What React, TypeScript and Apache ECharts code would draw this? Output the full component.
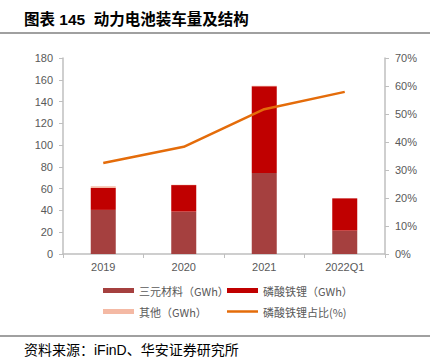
import React, { useEffect, useRef } from "react";
import * as echarts from "echarts";

const categories = ["2019", "2020", "2021", "2022Q1"];
const ternary = [40.5, 38.9, 74.3, 21.5];
const lfp = [20.2, 24.4, 79.8, 29.6];
const other = [1.5, 0.3, 0.4, 0];
const lfpShare = [32.5, 38.3, 51.7, 57.9];

const leftTicks = { min: 0, max: 180, interval: 20 };
const rightTicks = { min: 0, max: 70, interval: 10 };

const FONT = "'Liberation Sans', 'Noto Sans CJK SC', sans-serif";
const AXIS_COLOR = "#BFBFBF";
const LABEL_COLOR = "#595959";

export default function App() {
  const ref = useRef<HTMLDivElement>(null);
  useEffect(() => {
    if (!ref.current) return;
    const chart = echarts.init(ref.current, null, { renderer: "svg" });
    const legendText = { color: LABEL_COLOR, fontSize: 11, fontFamily: "'Noto Sans CJK SC', sans-serif" };
    const legendBase = {
      orient: "horizontal",
      itemWidth: 31,
      itemHeight: 5,
      itemGap: 0,
      padding: 0,
      textStyle: legendText,
      icon: "rect",
    };
    chart.setOption({
      animation: false,
      backgroundColor: "#ffffff",
      textStyle: { fontFamily: FONT },
      grid: { left: 63, right: 54, top: 58, bottom: 110, containLabel: false },
      legend: [
        { ...legendBase, data: ["三元材料（GWh）"], left: 103, top: 285 },
        { ...legendBase, data: ["磷酸铁锂（GWh）"], left: 227, top: 285 },
        { ...legendBase, data: ["其他（GWh）"], left: 103, top: 306 },
        { ...legendBase, data: [{ name: "磷酸铁锂占比(%)", icon: "rect" }], itemHeight: 2.5, left: 227, top: 306 },
      ],
      xAxis: {
        type: "category",
        data: categories,
        axisLine: { lineStyle: { color: AXIS_COLOR, width: 1.5 } },
        axisTick: { show: true, length: 4, lineStyle: { color: AXIS_COLOR } },
        axisLabel: { color: LABEL_COLOR, fontSize: 11, margin: 7, fontFamily: FONT },
      },
      yAxis: [
        {
          type: "value",
          ...leftTicks,
          axisLine: { show: true, lineStyle: { color: AXIS_COLOR, width: 1.5 } },
          axisTick: { show: true, length: 4, lineStyle: { color: AXIS_COLOR } },
          splitLine: { show: false },
          axisLabel: { color: LABEL_COLOR, fontSize: 11, margin: 10, fontFamily: FONT },
        },
        {
          type: "value",
          position: "right",
          ...rightTicks,
          axisLine: { show: true, lineStyle: { color: AXIS_COLOR, width: 1.5 } },
          axisTick: { show: true, length: 4, lineStyle: { color: AXIS_COLOR } },
          splitLine: { show: false },
          axisLabel: { color: LABEL_COLOR, fontSize: 11, margin: 10, formatter: "{value}%", fontFamily: FONT },
        },
      ],
      series: [
        {
          name: "三元材料（GWh）",
          type: "bar",
          stack: "total",
          barWidth: 25,
          data: ternary,
          itemStyle: { color: "#A5403F" },
        },
        {
          name: "磷酸铁锂（GWh）",
          type: "bar",
          stack: "total",
          barWidth: 25,
          data: lfp,
          itemStyle: { color: "#C00000" },
        },
        {
          name: "其他（GWh）",
          type: "bar",
          stack: "total",
          barWidth: 25,
          data: other,
          itemStyle: { color: "#F4B9A4" },
        },
        {
          name: "磷酸铁锂占比(%)",
          type: "line",
          yAxisIndex: 1,
          data: lfpShare,
          symbol: "none",
          itemStyle: { color: "#E46C0A" },
          lineStyle: { color: "#E46C0A", width: 2.5 },
        },
      ],
      graphic: [
        {
          type: "text",
          left: 24,
          top: 12,
          style: {
            text: "图表 145  动力电池装车量及结构",
            fill: "#000000",
            font: "bold 15.5px 'Liberation Sans', 'Noto Sans CJK SC', sans-serif",
          },
        },
        {
          type: "line",
          shape: { x1: 0, y1: 33, x2: 430, y2: 33 },
          style: { stroke: "#808080", lineWidth: 1.5 },
        },
        {
          type: "line",
          shape: { x1: 0, y1: 336, x2: 430, y2: 336 },
          style: { stroke: "#808080", lineWidth: 1.5 },
        },
        {
          type: "text",
          left: 24,
          top: 343,
          style: {
            text: "资料来源：iFinD、华安证券研究所",
            fill: "#000000",
            font: "14px 'Liberation Sans', 'Noto Sans CJK SC', sans-serif",
          },
        },
      ],
    });
    return () => chart.dispose();
  }, []);
  return (
    <div
      ref={ref}
      style={{ position: "fixed", left: 0, top: 0, width: 439, height: 364, background: "#fff" }}
    />
  );
}
